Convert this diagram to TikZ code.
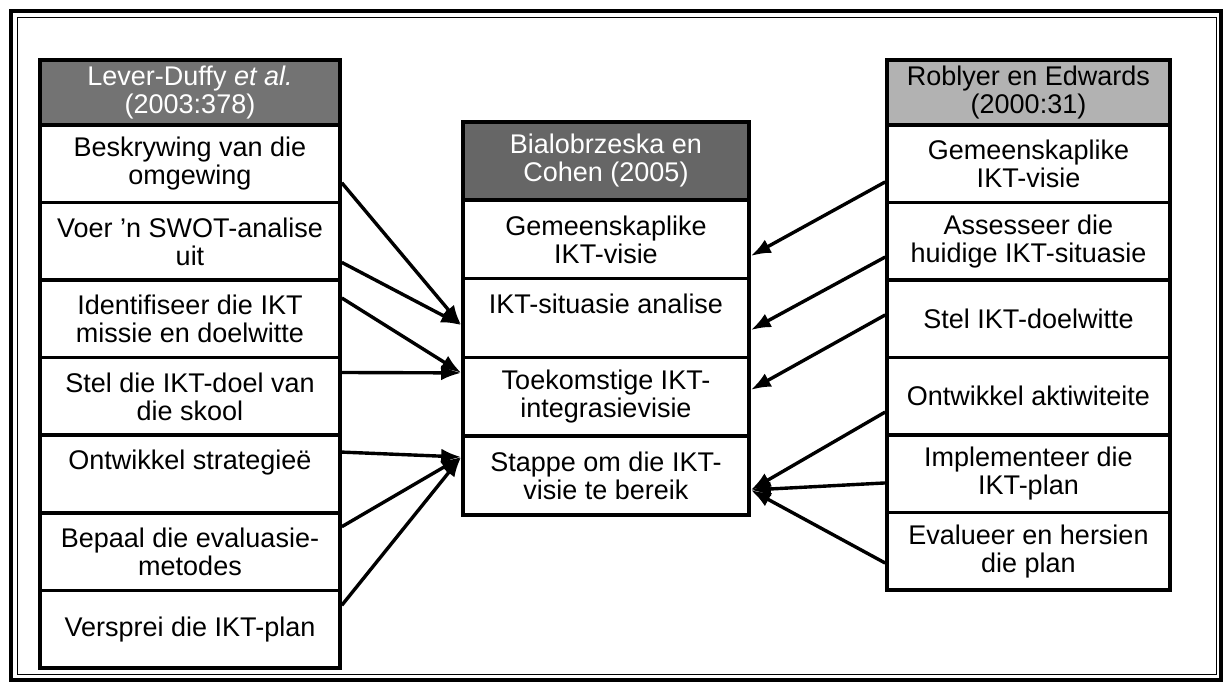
\documentclass[tikz,border=0pt]{standalone}
\usepackage{fontspec}
\setmainfont{Liberation Sans}
\usetikzlibrary{arrows.meta}

\begin{document}
\begin{tikzpicture}[x=0.5pt,y=-0.5pt]
          \tikzstyle{box}=[draw,line width=1.8pt,fill=white,align=center,inner sep=0pt,
                           minimum height=38.8pt,font=\fontsize{13.5}{14}\selectfont];
          \tikzstyle{head}=[box,minimum height=32.5pt];
          \tikzstyle{link}=[line width=1.7pt,-{Latex[length=10pt,width=7.5pt]}];
          \useasboundingbox (0,0) rectangle (1228,683);
          % frame
          \draw[line width=1.8pt] (11,11) rectangle (1221,680);
          \draw[line width=0.5pt] (17,18) rectangle (1216,675);
          % left: Lever-Duffy
          \node[head,minimum width=150pt,fill=black!55,text=white] (lh) at (190,92.5) {Lever-Duffy \textit{et al.}\\(2003:378)};
          \node[box,minimum width=150pt] (l1) at (190,163.8) {Beskrywing van die\\omgewing};
          \node[box,minimum width=150pt] (l2) at (190,241.4) {Voer 'n SWOT-analise\\uit};
          \node[box,minimum width=150pt] (l3) at (190,319.0) {Identifiseer die IKT\\missie en doelwitte};
          \node[box,minimum width=150pt] (l4) at (190,396.5) {Stel die IKT-doel van\\die skool};
          \node[box,minimum width=150pt] (l5) at (190,474.1) {Ontwikkel strategieë\\\mbox{}};
          \node[box,minimum width=150pt] (l6) at (190,551.7) {Bepaal die evaluasie-\\metodes};
          \node[box,minimum width=150pt] (l7) at (190,629.3) {Versprei die IKT-plan};
          % middle: Bialobrzeska
          \node[head,minimum width=143pt,minimum height=39pt,fill=black!60,text=white] (mh) at (606,161) {Bialobrzeska en\\Cohen (2005)};
          \node[box,minimum width=143pt,minimum height=39.4pt] (m1) at (606,239.4) {Gemeenskaplike\\IKT-visie};
          \node[box,minimum width=143pt,minimum height=39.4pt] (m2) at (606,318.1) {IKT-situasie analise\\\mbox{}};
          \node[box,minimum width=143pt,minimum height=39.4pt] (m3) at (606,396.9) {Toekomstige IKT-\\integrasievisie};
          \node[box,minimum width=143pt,minimum height=39.4pt] (m4) at (606,475.6) {Stappe om die IKT-\\visie te bereik};
          % right: Roblyer
          \node[head,minimum width=141.5pt,fill=black!30] (rh) at (1028.5,92.5) {Roblyer en Edwards\\(2000:31)};
          \node[box,minimum width=141.5pt] (r1) at (1028.5,163.75) {Gemeenskaplike\\IKT-visie};
          \node[box,minimum width=141.5pt] (r2) at (1028.5,241.25) {Assesseer die\\huidige IKT-situasie};
          \node[box,minimum width=141.5pt] (r3) at (1028.5,318.75) {Stel IKT-doelwitte};
          \node[box,minimum width=141.5pt] (r4) at (1028.5,396.25) {Ontwikkel aktiwiteite};
          \node[box,minimum width=141.5pt] (r5) at (1028.5,473.75) {Implementeer die\\IKT-plan};
          \node[box,minimum width=141.5pt] (r6) at (1028.5,551.25) {Evalueer en hersien\\die plan};
          % left arrows
          \draw[link] ([yshift=-9.5pt]l1.east) -- ([yshift=-3.5pt]m2.west);
          \draw[link] ([yshift=-10.5pt]l2.east) -- ([yshift=-3.5pt]m2.west);
          \draw[link] ([yshift=10.5pt]l3.east) -- ([yshift=12pt]m3.west);
          \draw[link] ([yshift=12pt]l4.east) -- ([yshift=12pt]m3.west);
          \draw[link] ([yshift=11pt]l5.east) -- ([yshift=9.3pt]m4.west);
          \draw[link] ([yshift=12.5pt]l6.east) -- ([yshift=9.3pt]m4.west);
          \draw[link] ([yshift=12pt]l7.east) -- ([yshift=9.3pt]m4.west);
          % right arrows
          \draw[link] ([yshift=-9.1pt]r1.west) -- ([yshift=-8.3pt]m1.east);
          \draw[link] ([yshift=-7.9pt]r2.west) -- ([yshift=-6pt]m2.east);
          \draw[link] ([yshift=1.9pt]r3.west) -- ([yshift=3.5pt]m3.east);
          \draw[link] ([yshift=-7.9pt]r4.west) -- ([yshift=-7.2pt]m4.east);
          \draw[link] ([yshift=-4.6pt]r5.west) -- ([yshift=-7.2pt]m4.east);
          \draw[link] ([yshift=-5.9pt]r6.west) -- ([yshift=-7.2pt]m4.east);
      \end{tikzpicture}
\end{document}
